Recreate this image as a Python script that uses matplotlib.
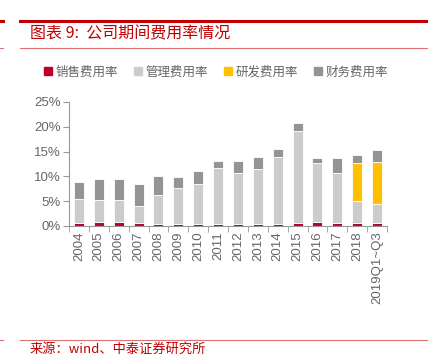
import matplotlib.pyplot as plt
import numpy as np
from matplotlib.patches import Patch
from matplotlib.lines import Line2D

plt.rcParams['font.family'] = ['Liberation Sans', 'Noto Sans CJK SC', 'DejaVu Sans']

years = ['2004', '2005', '2006', '2007', '2008', '2009', '2010', '2011',
         '2012', '2013', '2014', '2015', '2016', '2017', '2018', '2019Q1~Q3']
sales = [0.67, 0.8, 0.9, 0.67, 0.47, 0.47, 0.34, 0.47, 0.4, 0.4, 0.4, 0.67, 0.74, 0.67, 0.67, 0.67]
mgmt = [4.83, 4.4, 4.4, 3.33, 5.73, 7.13, 8.16, 11.23, 10.3, 11.0, 13.5, 18.43, 11.96, 10.03, 4.38, 3.73]
rd = [0, 0, 0, 0, 0, 0, 0, 0, 0, 0, 0, 0, 0, 0, 7.75, 8.5]
fin = [3.3, 4.3, 4.2, 4.4, 3.8, 2.2, 2.55, 1.4, 2.4, 2.6, 1.7, 1.6, 1.0, 3.0, 1.55, 2.5]

names = ['销售费用率', '管理费用率', '研发费用率', '财务费用率']
colors = ['#C0002A', '#CCCCCC', '#FFC000', '#949494']

RED = '#C00000'
W, H = 428, 356

fig = plt.figure(figsize=(W / 100, H / 100), dpi=100)

# frame lines and title
fig.add_artist(Line2D([20 / W, 1], [1 - 20.5 / H] * 2, color=RED, lw=2.2))
fig.add_artist(Line2D([0, 3 / W], [1 - 20.5 / H] * 2, color=RED, lw=2.2))
fig.add_artist(Line2D([20 / W, 1], [1 - 47.5 / H] * 2, color='#E07070', lw=0.8))
fig.add_artist(Line2D([0, 3 / W], [1 - 47.5 / H] * 2, color='#E07070', lw=0.8))
fig.text(30 / W, 1 - 34 / H, '图表 9:  公司期间费用率情况', color=RED, fontsize=11.5,
         family=['Noto Sans CJK SC'], va='center', ha='left')
fig.add_artist(Line2D([20 / W, 1], [1 - 340 / H] * 2, color='#E07070', lw=0.8))
fig.add_artist(Line2D([0, 3 / W], [1 - 340 / H] * 2, color='#E07070', lw=0.8))
fig.text(30 / W, 1 - 355.5 / H, '来源：wind、中泰证券研究所', color=RED, fontsize=9.5,
         family=['Noto Sans CJK SC'], va='bottom', ha='left')

ax = fig.add_axes([69 / W, 1 - 226 / H, (387 - 69) / W, (226 - 102) / H])
x = np.arange(len(years))
bottom = np.zeros(len(years))
for vals, c in zip([sales, mgmt, rd, fin], colors):
    ax.bar(x, vals, 0.5, bottom=bottom, color=c, edgecolor='white', linewidth=0.6)
    bottom += np.array(vals)

ax.set_xlim(-0.5, len(years) - 0.5)
ax.set_ylim(0, 25)
ax.set_yticks([0, 5, 10, 15, 20, 25])
ax.set_yticklabels(['0%', '5%', '10%', '15%', '20%', '25%'])
ax.set_xticks(x)
ax.set_xticklabels(years, rotation=90)
ax.set_xticks(np.arange(len(years) + 1) - 0.5, minor=True)
ax.tick_params(axis='x', which='major', length=0, pad=4)
ax.tick_params(axis='x', which='minor', length=4, color='#999999')
ax.tick_params(axis='y', length=4, color='#999999', pad=2)
ax.tick_params(labelsize=9.5, labelcolor='#666666')
for s in ['top', 'right']:
    ax.spines[s].set_visible(False)
for s in ['left', 'bottom']:
    ax.spines[s].set_color('#999999')
    ax.spines[s].set_linewidth(0.8)

handles = [Patch(color=c) for c in colors]
leg = fig.legend(handles, names, loc='center', bbox_to_anchor=(0.505, 1 - 72 / H), ncol=4,
                 frameon=False, handlelength=0.6, handleheight=0.6, handletextpad=0.3,
                 columnspacing=1.3, prop={'family': ['Noto Sans CJK SC'], 'size': 9})
for t in leg.get_texts():
    t.set_color('#666666')

plt.savefig('out.png', dpi=100)
